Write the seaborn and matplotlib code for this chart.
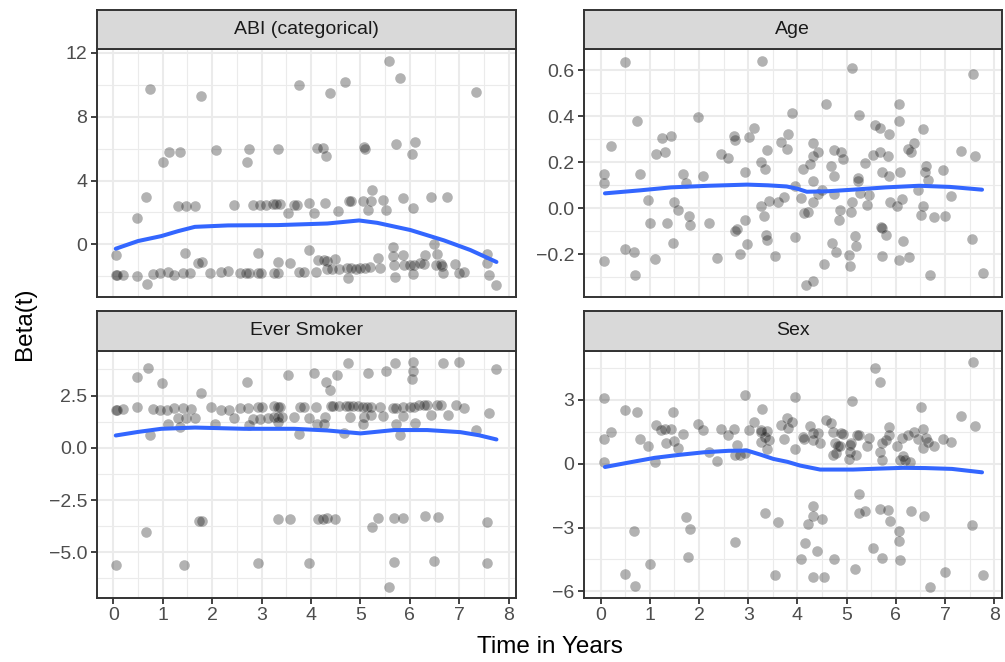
import numpy as np
import pandas as pd
import matplotlib
matplotlib.use("Agg")
import matplotlib.pyplot as plt
import seaborn as sns
from matplotlib.ticker import FixedLocator, FixedFormatter

# ---------------- data ----------------
abi_time = [0.05, 0.05, 0.07, 0.2, 0.47, 0.69, 0.81, 0.94, 1.1, 1.23, 1.41, 1.55, 1.45, 1.71, 1.79,
            1.95, 2.18, 2.33, 2.57, 2.69, 2.74, 2.92, 2.92, 2.99, 3.26, 3.33, 3.34, 3.58, 3.76, 3.85,
            3.95, 4.1, 4.15, 4.27, 4.33, 4.48, 4.33, 4.42, 4.57, 4.72, 4.8, 4.9, 5.0, 5.09, 4.74,
            5.2, 5.36, 5.4, 5.66, 5.66, 5.85, 5.68, 5.88, 5.69, 6.01, 6.08, 6.21, 6.28, 6.07, 6.3,
            6.49, 6.55, 6.52, 6.62, 6.65, 6.67, 6.92, 6.99, 7.09, 7.56, 7.55, 7.6, 7.75,
            0.47, 0.67, 1.3, 1.48, 1.65, 2.44, 2.82, 2.96, 3.09, 3.23, 3.29, 3.38, 3.53, 3.66, 3.72,
            3.95, 4.05, 4.29, 4.54, 4.77, 4.8, 5.06, 5.15, 5.21, 5.24, 5.46, 5.51, 5.85, 6.07, 6.43,
            6.75,
            0.74, 1.77, 1.0, 1.12, 1.34, 2.07, 2.74, 2.71, 3.33, 3.76, 4.12, 4.25, 4.31, 4.39, 4.68,
            5.07, 5.09, 5.58, 5.71, 5.8, 6.05, 6.1, 7.33]
abi_beta = [-0.69, -1.9, -1.92, -1.94, -2.0, -2.5, -1.88, -1.77, -1.73, -1.9, -1.8, -1.77, -0.52, -1.19, -1.1,
            -1.8, -1.7, -1.67, -1.77, -1.77, -1.77, -0.52, -1.8, -1.8, -1.8, -1.8, -1.1, -1.15, -1.7, -1.7,
            -0.37, -1.7, -1.0, -1.0, -1.05, -0.94, -1.56, -1.56, -1.56, -1.5, -1.5, -1.52, -1.5, -1.5, -2.1,
            -1.44, -0.83, -1.46, -0.15, -0.73, -0.69, -1.3, -1.3, -2.04, -1.3, -1.27, -1.19, -1.25, -1.88, -0.69,
            0.0, -0.62, -1.3, -1.25, -1.35, -1.8, -1.25, -1.8, -1.72, -0.58, -1.19, -1.94, -2.56,
            1.67, 2.96, 2.38, 2.38, 2.38, 2.44, 2.5, 2.5, 2.45, 2.54, 2.54, 2.54, 1.94, 2.5, 2.5,
            2.6, 1.98, 2.6, 2.08, 2.73, 2.7, 2.7, 2.15, 2.75, 3.38, 2.77, 2.15, 2.92, 2.25, 2.98,
            2.98,
            9.73, 9.31, 5.19, 5.8, 5.8, 5.9, 5.98, 5.19, 5.98, 10.0, 6.04, 6.04, 5.52, 9.48, 10.15,
            6.1, 6.0, 11.52, 6.31, 10.42, 5.67, 6.42, 9.52]
abi_smooth_t = [0.05, 0.5, 0.97, 1.31, 1.65, 2.32, 3.33, 4.33, 4.97, 5.34, 6.01, 6.69, 7.22, 7.75]
abi_smooth_b = [-0.27, 0.21, 0.52, 0.83, 1.1, 1.19, 1.21, 1.31, 1.5, 1.35, 0.9, 0.25, -0.35, -1.1]

age_time = [0.07, 0.07, 0.07, 0.21, 0.49, 0.49, 0.69, 0.71, 0.75, 0.81, 0.96, 1.01, 1.11, 1.13, 1.25,
            1.32, 1.35, 1.44, 1.47, 1.5, 1.58, 1.67, 1.73, 1.79, 1.82, 1.98, 2.08, 2.21, 2.36, 2.44,
            2.59, 2.72, 2.74, 2.74, 2.78, 2.84, 2.94, 2.94, 2.98, 3.01, 3.12, 3.25, 3.26, 3.33, 3.35,
            3.37, 3.38, 3.39, 3.43, 3.54, 3.6, 3.67, 3.72, 3.78, 3.8, 3.89, 3.95, 3.96, 4.07, 4.12,
            4.13, 4.17, 4.22, 4.25, 4.32, 4.32, 4.32, 4.32, 4.32, 4.42, 4.42, 4.49, 4.54, 4.58, 4.69,
            4.71, 4.74, 4.74, 4.74, 4.79, 4.85, 4.87, 4.89, 4.93, 5.05, 5.07, 5.08, 5.1, 5.11, 5.16,
            5.2, 5.23, 5.23, 5.26, 5.28, 5.38, 5.42, 5.46, 5.53, 5.58, 5.67, 5.67, 5.69, 5.72, 5.72,
            5.72, 5.8, 5.85, 5.87, 5.87, 5.88, 6.03, 6.06, 6.07, 6.09, 6.12, 6.07, 6.14, 6.26, 6.24,
            6.3, 6.36, 6.44, 6.51, 6.55, 6.56, 6.59, 6.62, 6.66, 6.69, 6.77, 6.96, 7.0, 7.11, 7.33,
            7.55, 7.56, 7.6, 7.76, 3.29]
age_beta = [0.149, 0.11, -0.231, 0.271, 0.637, -0.179, -0.191, -0.29, 0.378, 0.15, 0.035, -0.064, -0.219, 0.235, 0.305,
            0.244, -0.064, 0.316, -0.15, 0.029, -0.006, 0.149, 0.111, -0.035, -0.071, 0.396, 0.142, -0.064, -0.218, 0.238,
            0.221, 0.315, 0.297, -0.101, -0.092, -0.199, 0.159, -0.053, -0.156, 0.31, 0.351, 0.202, 0.012, -0.032, 0.173,
            -0.116, 0.253, -0.14, 0.03, -0.208, 0.026, 0.289, 0.048, 0.257, 0.323, 0.413, 0.098, -0.127, 0.046, 0.173,
            -0.022, -0.335, -0.014, 0.193, 0.228, 0.282, 0.12, -0.318, 0.026, 0.245, 0.062, 0.081, -0.241, 0.452, 0.182,
            -0.15, 0.254, 0.139, 0.062, -0.191, -0.053, -0.009, 0.245, 0.214, -0.202, -0.251, -0.014, 0.612, 0.026, -0.121,
            -0.165, 0.13, 0.118, 0.404, 0.066, 0.199, 0.014, 0.058, 0.231, 0.361, 0.351, 0.243, -0.082, -0.085, 0.16,
            -0.208, -0.118, 0.228, 0.322, 0.139, 0.029, 0.012, 0.452, 0.38, 0.16, 0.04, -0.227, -0.143, -0.212, 0.257,
            0.243, 0.283, 0.081, -0.029, 0.344, 0.012, 0.159, 0.185, 0.124, -0.292, -0.039, 0.168, -0.032, 0.055, 0.248,
            -0.133, 0.583, 0.228, -0.283, 0.643]
age_smooth_t = [0.09, 0.8, 1.43, 2.2, 2.98, 3.4, 3.78, 4.0, 4.19, 4.6, 5.13, 5.8, 6.47, 7.1, 7.75]
age_smooth_b = [0.065, 0.078, 0.091, 0.098, 0.103, 0.1, 0.095, 0.085, 0.072, 0.074, 0.081, 0.091, 0.098, 0.093, 0.081]

smk_time = [0.05, 0.07, 0.2, 0.47, 0.47, 0.71, 0.74, 0.81, 0.94, 0.99, 1.08, 1.11, 1.23, 1.3, 1.34,
            1.41, 1.48, 1.57, 1.65, 1.77, 1.97, 2.06, 2.18, 2.35, 2.44, 2.57, 2.71, 2.72, 2.74, 2.82,
            2.92, 2.96, 3.0, 3.13, 3.25, 3.25, 3.33, 3.41, 3.33, 3.37, 3.34, 3.53, 3.66, 3.76, 3.78,
            3.85, 3.95, 4.05, 4.1, 4.12, 4.27, 4.29, 4.31, 4.38, 4.4, 4.45, 4.57, 4.52, 4.67, 4.74,
            4.7, 4.77, 4.84, 4.94, 4.79, 5.06, 5.14, 5.21, 5.06, 5.07, 5.15, 5.22, 5.4, 5.46, 5.51,
            5.65, 5.71, 5.69, 5.71, 5.8, 5.85, 5.85, 6.01, 6.08, 6.05, 6.07, 6.07, 6.1, 6.18, 6.28,
            6.35, 6.43, 6.55, 6.62, 6.67, 6.77, 6.94, 6.99, 7.1, 7.33, 7.59, 7.75,
            0.67, 0.05, 1.44, 1.73, 1.79, 2.92, 3.34, 3.58, 3.95, 4.15, 4.25, 4.32, 4.48, 5.24, 5.36,
            5.58, 5.67, 5.67, 5.85, 6.3, 6.49, 6.57, 7.55, 7.55]
smk_beta = [1.8, 1.8, 1.87, 3.4, 1.93, 3.83, 0.59, 1.87, 1.83, 3.08, 1.8, 1.12, 1.9, 1.44, 1.0,
            1.9, 1.44, 1.87, 1.42, 2.63, 1.93, 1.12, 1.83, 1.83, 1.44, 1.9, 3.17, 1.9, 1.07, 1.39,
            1.93, 1.39, 1.96, 1.44, 1.99, 1.46, 1.46, 1.46, 1.96, 1.96, 1.23, 3.49, 1.48, 0.64, 1.96,
            1.96, 1.44, 3.56, 1.96, 1.12, 1.12, 1.48, 3.14, 2.76, 1.98, 1.98, 1.98, 3.49, 0.72, 4.07,
            1.98, 1.98, 2.0, 1.98, 1.48, 1.96, 1.96, 1.96, 1.12, 1.48, 3.59, 1.55, 1.96, 1.51, 3.67,
            1.9, 1.9, 4.07, 1.12, 0.59, 1.96, 1.51, 1.96, 1.96, 3.27, 3.67, 4.1, 1.2, 2.05, 2.05,
            2.05, 1.58, 2.05, 2.05, 4.07, 1.58, 2.07, 4.11, 1.91, 0.85, 1.67, 3.75,
            -4.03, -5.63, -5.63, -3.48, -3.48, -5.53, -3.43, -3.43, -5.5, -3.42, -3.4, -3.38, -3.42, -3.78, -3.35,
            -6.65, -5.45, -3.38, -3.38, -3.27, -5.42, -3.3, -3.54, -5.53]
smk_smooth_t = [0.05, 0.5, 0.97, 1.65, 2.65, 3.66, 4.33, 5.0, 5.68, 6.35, 7.02, 7.4, 7.75]
smk_smooth_b = [0.59, 0.76, 0.91, 0.97, 0.91, 0.91, 0.83, 0.69, 0.85, 0.85, 0.75, 0.6, 0.4]

sex_time = [0.07, 0.08, 0.07, 0.21, 0.49, 0.49, 0.68, 0.71, 0.75, 0.81, 0.96, 1.01, 1.11, 1.13, 1.23,
            1.31, 1.43, 1.34, 1.47, 1.5, 1.58, 1.67, 1.73, 1.78, 1.82, 1.98, 2.08, 2.2, 2.36, 2.44,
            2.59, 2.72, 2.73, 2.74, 2.78, 2.84, 2.94, 2.94, 3.01, 3.12, 3.25, 3.27, 3.26, 3.28, 3.35,
            3.38, 3.38, 3.42, 3.35, 3.54, 3.6, 3.66, 3.72, 3.78, 3.8, 3.88, 3.96, 3.96, 4.07, 4.11,
            4.13, 4.16, 4.21, 4.25, 4.31, 4.32, 4.32, 4.32, 4.32, 4.4, 4.42, 4.46, 4.5, 4.54, 4.58,
            4.69, 4.72, 4.72, 4.74, 4.76, 4.79, 4.82, 4.87, 4.89, 4.92, 5.05, 5.07, 5.07, 5.09, 5.11,
            5.16, 5.2, 5.22, 5.25, 5.25, 5.26, 5.38, 5.41, 5.46, 5.53, 5.58, 5.67, 5.67, 5.67, 5.71,
            5.72, 5.72, 5.8, 5.85, 5.87, 5.87, 5.88, 6.03, 6.06, 6.07, 6.09, 6.09, 6.14, 6.12, 6.19,
            6.28, 6.24, 6.31, 6.36, 6.44, 6.52, 6.56, 6.56, 6.57, 6.62, 6.66, 6.69, 6.77, 6.96, 7.0,
            7.11, 7.33, 7.55, 7.56, 7.6, 7.76]
sex_beta = [3.09, 1.16, 0.06, 1.48, 2.53, -5.2, -3.16, -5.75, 2.42, 1.16, 0.81, -4.69, 0.06, 1.83, 1.59,
            1.64, 1.63, 0.97, 2.41, 1.08, 0.75, 1.41, -2.5, -4.38, -3.05, 1.84, 1.56, 0.53, 0.13, 1.64,
            1.36, 1.64, -3.66, 0.38, 0.89, 0.38, 3.23, 0.5, 1.59, 1.94, 1.56, 1.5, 1.02, 2.56, 1.25,
            1.52, 0.69, 1.09, -2.34, -5.23, -2.73, 1.81, 1.16, 2.14, 1.69, 1.97, 3.13, 0.69, -4.5, 1.25,
            1.17, -3.72, -2.83, 1.78, -2.44, -2.0, 1.44, 1.13, -5.31, -4.08, 1.44, 0.97, -2.59, -5.34, 2.03,
            1.91, 1.47, 0.38, -4.5, 0.97, 0.5, 0.84, 0.81, 1.44, 1.38, 0.22, 0.89, 0.53, 0.97, 2.92,
            -4.97, 0.38, 1.36, 1.36, -2.34, -1.41, -2.22, 0.81, 1.19, -3.98, 4.5, 3.83, 0.53, -2.13, -4.42,
            0.19, 0.97, 1.09, -2.16, 1.72, 1.36, -2.7, 0.81, -3.17, -3.64, -4.53, 0.19, 0.34, 1.2, 0.16,
            0.06, 1.36, -2.23, 1.47, 1.17, 2.67, 1.64, 0.73, -2.44, 1.2, 1.0, -5.78, 0.81, 1.16, -5.08,
            1.0, 2.22, -2.86, 4.77, 1.78, -5.23]
sex_smooth_t = [0.09, 0.6, 1.1, 1.6, 2.1, 2.6, 2.98, 3.25, 3.51, 3.8, 4.05, 4.46, 5.13, 5.6, 6.14, 6.6, 7.14, 7.75]
sex_smooth_b = [-0.16, 0.06, 0.27, 0.41, 0.53, 0.6, 0.61, 0.42, 0.22, 0.08, -0.09, -0.28, -0.28, -0.24, -0.2, -0.21, -0.25, -0.41]

facet_titles = ["ABI (categorical)", "Age", "Ever Smoker", "Sex"]
x_ticks = [0, 1, 2, 3, 4, 5, 6, 7, 8]
y_ticks = {
    "ABI (categorical)": ([0, 4, 8, 12], ["0", "4", "8", "12"]),
    "Age": ([-0.2, 0.0, 0.2, 0.4, 0.6], ["\u22120.2", "0.0", "0.2", "0.4", "0.6"]),
    "Ever Smoker": ([-5.0, -2.5, 0.0, 2.5], ["\u22125.0", "\u22122.5", "0.0", "2.5"]),
    "Sex": ([-6, -3, 0, 3], ["\u22126", "\u22123", "0", "3"]),
}

points = {
    "ABI (categorical)": (abi_time, abi_beta),
    "Age": (age_time, age_beta),
    "Ever Smoker": (smk_time, smk_beta),
    "Sex": (sex_time, sex_beta),
}
smooths = {
    "ABI (categorical)": (abi_smooth_t, abi_smooth_b),
    "Age": (age_smooth_t, age_smooth_b),
    "Ever Smoker": (smk_smooth_t, smk_smooth_b),
    "Sex": (sex_smooth_t, sex_smooth_b),
}

# ---------------- figure ----------------
sns.set_theme(style="white")
plt.rcParams['font.family'] = ['Liberation Sans', 'DejaVu Sans']

W, H = 1005, 662
fig = plt.figure(figsize=(W / 100, H / 100), dpi=100)
fig.patch.set_facecolor("white")

# panel body boxes in pixels: (left, top, right, bottom)
boxes = {
    "ABI (categorical)": (96.7, 49.3, 516.0, 296.5),
    "Age": (584.0, 49.3, 1001.5, 296.5),
    "Ever Smoker": (96.7, 350.7, 516.0, 598.0),
    "Sex": (584.0, 350.7, 1001.5, 598.0),
}
strip_h = 39.5
dark = "#333333"

all_t = np.concatenate([np.asarray(v[0], float) for v in points.values()])
xmin, xmax = all_t.min(), all_t.max()
xr = xmax - xmin
xlim = (xmin - 0.05 * xr, xmax + 0.05 * xr)


def minor_from(ticks):
    t = np.asarray(ticks, float)
    step = t[1] - t[0]
    return list(np.concatenate([[t[0] - step / 2], (t[:-1] + t[1:]) / 2, [t[-1] + step / 2]]))


for name in facet_titles:
    l, t, r, b = boxes[name]
    ax = fig.add_axes([l / W, 1 - b / H, (r - l) / W, (b - t) / H])
    tt, bb = points[name]
    df = pd.DataFrame({"time": tt, "beta": bb})
    sns.scatterplot(data=df, x="time", y="beta", ax=ax, color="black", alpha=0.3,
                    s=58, linewidth=0, zorder=3, legend=False)
    st, sb = smooths[name]
    sdf = pd.DataFrame({"time": st, "beta": sb})
    sns.lineplot(data=sdf, x="time", y="beta", ax=ax, color="#3366FF", linewidth=2.9,
                 zorder=4, estimator=None, sort=True)

    yr = max(bb) - min(bb)
    ax.set_ylim(min(bb) - 0.05 * yr, max(bb) + 0.05 * yr)
    ax.set_xlim(*xlim)

    yt, yl = y_ticks[name]
    ax.yaxis.set_major_locator(FixedLocator(yt))
    ax.yaxis.set_major_formatter(FixedFormatter(yl))
    ax.yaxis.set_minor_locator(FixedLocator(minor_from(yt)))
    ax.xaxis.set_major_locator(FixedLocator(x_ticks))
    ax.xaxis.set_minor_locator(FixedLocator(minor_from(x_ticks)))

    ax.set_facecolor("white")
    ax.grid(which="major", color="#EBEBEB", linewidth=1.5)
    ax.grid(which="minor", color="#EBEBEB", linewidth=0.8)
    ax.set_axisbelow(True)
    for sp in ax.spines.values():
        sp.set_color(dark)
        sp.set_linewidth(1.4)
        sp.set_visible(True)

    ax.tick_params(which="minor", length=0)
    ax.tick_params(axis="both", which="major", direction="out", length=4.3, width=1.3,
                   color=dark, labelcolor="#4D4D4D", labelsize=14, pad=2.5,
                   left=True, bottom=True)
    if name in ("ABI (categorical)", "Age"):
        ax.tick_params(axis="x", which="major", bottom=False, labelbottom=False)
    ax.set_xlabel("")
    ax.set_ylabel("")

    # strip
    sax = fig.add_axes([l / W, 1 - t / H, (r - l) / W, strip_h / H])
    sax.set_facecolor("#D9D9D9")
    sax.set_xticks([])
    sax.set_yticks([])
    for sp in sax.spines.values():
        sp.set_color(dark)
        sp.set_linewidth(1.4)
        sp.set_visible(True)
    sax.text(0.5, 0.5, name, ha="center", va="center", fontsize=14, color="#1A1A1A",
             transform=sax.transAxes)

fig.text(549.5 / W, 1 - 647 / H, "Time in Years", ha="center", va="center", fontsize=17.5, color="black")
fig.text(25 / W, 1 - 324 / H, "Beta(t)", ha="center", va="center", rotation=90, fontsize=17.5, color="black")

fig.savefig("out.png", dpi=100, facecolor="white")
